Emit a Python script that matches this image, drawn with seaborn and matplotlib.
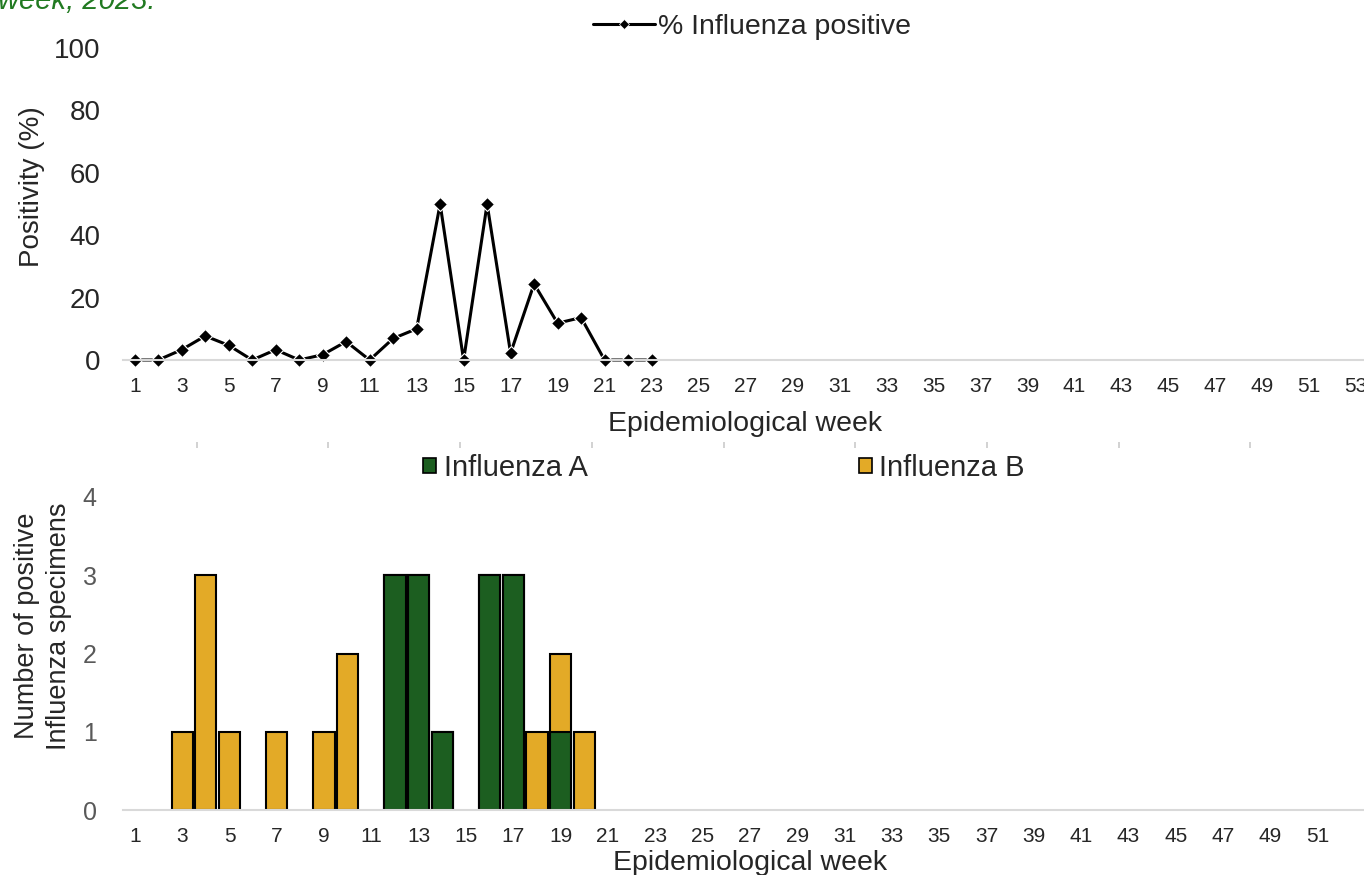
import seaborn as sns
import matplotlib.pyplot as plt
import pandas as pd
from matplotlib.patches import Patch
from matplotlib.lines import Line2D

# dados do grafico de positividade (semanas 1-23)
semanas_linha = [1, 2, 3, 4, 5, 6, 7, 8, 9, 10, 11, 12, 13, 14, 15, 16, 17, 18, 19, 20, 21, 22, 23]
pct_positivo = [0, 0, 3.3, 7.7, 4.7, 0, 3.3, 0, 1.7, 5.9, 0, 6.9, 10, 50, 0, 50, 2.2, 24.4, 11.8, 13.6, 0, 0, 0]

# dados das barras (so semanas com amostras positivas)
semanas_barra = [3, 4, 5, 7, 9, 10, 12, 13, 14, 16, 17, 18, 19, 20]
influenza_a = [0, 0, 0, 0, 0, 0, 3, 3, 1, 3, 3, 0, 1, 0]
influenza_b = [1, 3, 1, 1, 1, 2, 0, 0, 0, 0, 0, 1, 1, 1]

todas_semanas = list(range(1, 54))

VERDE = '#1c5e20'
AMARELO = '#e3aa27'
CINZA = '#d9d9d9'
TEXTO = '#262626'

sns.set_style('white')
plt.rcParams['font.family'] = ['Liberation Sans', 'DejaVu Sans']

W, H = 1364, 875
fig = plt.figure(figsize=(W / 100, H / 100), dpi=100)

# titulo cortado no topo
fig.text(-2 / W, 1 - 9 / H, 'week, 2023.', color='#217a21', fontsize=21,
         style='italic', ha='left', va='baseline')

# ---- grafico de cima: % positivo ----
ax1 = fig.add_axes([123 / W, 1 - 360 / H, (1368 - 123) / W, 312 / H])
sns.lineplot(x=semanas_linha, y=pct_positivo, ax=ax1, color='black', linewidth=2.2,
             marker='D', markersize=7.5, markeredgecolor='white', markeredgewidth=0.8)
for ln in ax1.lines:
    ln.set_clip_on(False)
ax1.set_xlim(0.5, 53.5)
ax1.set_ylim(0, 100)
ax1.set_yticks(range(0, 101, 20))
ax1.set_xticks(range(1, 54, 2))
ax1.tick_params(axis='y', length=0, pad=16, labelsize=20, labelcolor=TEXTO)
ax1.tick_params(axis='x', length=0, pad=12, labelsize=15, labelcolor=TEXTO)
for s in ['top', 'right', 'left']:
    ax1.spines[s].set_visible(False)
ax1.spines['bottom'].set_color(CINZA)
ax1.spines['bottom'].set_linewidth(1.5)
ax1.set_ylabel('Positivity (%)', fontsize=20, color=TEXTO)
ax1.yaxis.set_label_coords(-0.063, 0.556)
ax1.set_xlabel('Epidemiological week', fontsize=20.5, color=TEXTO, va='top')
ax1.xaxis.set_label_coords(0.5, -0.165)
h_linha = Line2D([], [], color='black', linewidth=2.2, marker='D', markersize=5,
                 markeredgecolor='white', markeredgewidth=0.5)
ax1.legend(handles=[h_linha], labels=['% Influenza positive'], loc='center',
           bbox_to_anchor=(752 / W, 1 - 27 / H), bbox_transform=fig.transFigure,
           frameon=False, fontsize=20.5, handlelength=2.2, handletextpad=0.1,
           labelcolor=TEXTO)

# tracinhos cinzas entre os graficos
ax_t = fig.add_axes([65 / W, 1 - 448 / H, (1382 - 65) / W, 0.0005])
ax_t.set_xlim(0, 10)
ax_t.set_xticks(range(1, 10))
ax_t.set_yticks([])
ax_t.tick_params(axis='x', bottom=True, direction='in', length=4.5, width=1.3,
                 color='#cfcfcf', labelbottom=False)
ax_t.patch.set_alpha(0)
for s in ax_t.spines.values():
    s.set_visible(False)

# ---- grafico de baixo: barras empilhadas ----
df = pd.DataFrame({'semana': semanas_barra, 'A': influenza_a, 'B': influenza_b})
df['total'] = df['A'] + df['B']
df_a = df[df['A'] > 0]

ax2 = fig.add_axes([123 / W, 1 - 810 / H, (1377 - 123) / W, 313 / H])
sns.barplot(data=df, x='semana', y='total', order=todas_semanas, ax=ax2, color=AMARELO,
            saturation=1, errorbar=None, width=0.9, edgecolor='black', linewidth=1.5)
sns.barplot(data=df_a, x='semana', y='A', order=todas_semanas, ax=ax2, color=VERDE,
            saturation=1, errorbar=None, width=0.9, edgecolor='black', linewidth=1.5)
ax2.set_xlim(-0.5, 52.5)
ax2.set_ylim(0, 4)
ax2.set_yticks(range(0, 5))
ax2.set_xticks(range(0, 51, 2))
ax2.set_xticklabels([str(s) for s in range(1, 52, 2)])
ax2.tick_params(axis='y', length=0, pad=19, labelsize=18, labelcolor='#595959')
ax2.tick_params(axis='x', length=0, pad=12, labelsize=15, labelcolor=TEXTO)
for s in ['top', 'right', 'left']:
    ax2.spines[s].set_visible(False)
ax2.spines['bottom'].set_color(CINZA)
ax2.spines['bottom'].set_linewidth(1.5)
ax2.set_ylabel('Number of positive\nInfluenza specimens', fontsize=19.5, color=TEXTO,
               linespacing=1.3)
ax2.yaxis.set_label_coords(-0.041, 0.588)
ax2.set_xlabel('Epidemiological week', fontsize=20.5, color=TEXTO, va='top')
ax2.xaxis.set_label_coords(0.5, -0.128)

handles = [Patch(facecolor=VERDE, edgecolor='black', linewidth=1.2),
           Patch(facecolor=AMARELO, edgecolor='black', linewidth=1.2)]
ax2.legend(handles=handles, labels=['Influenza A', 'Influenza B'], loc='center',
           bbox_to_anchor=(724 / W, 1 - 468 / H), bbox_transform=fig.transFigure,
           frameon=False, fontsize=21, ncol=2, columnspacing=9.3, handlelength=0.45,
           handleheight=0.45, handletextpad=0.25, labelcolor=TEXTO)

fig.savefig('out.png', dpi=100)
